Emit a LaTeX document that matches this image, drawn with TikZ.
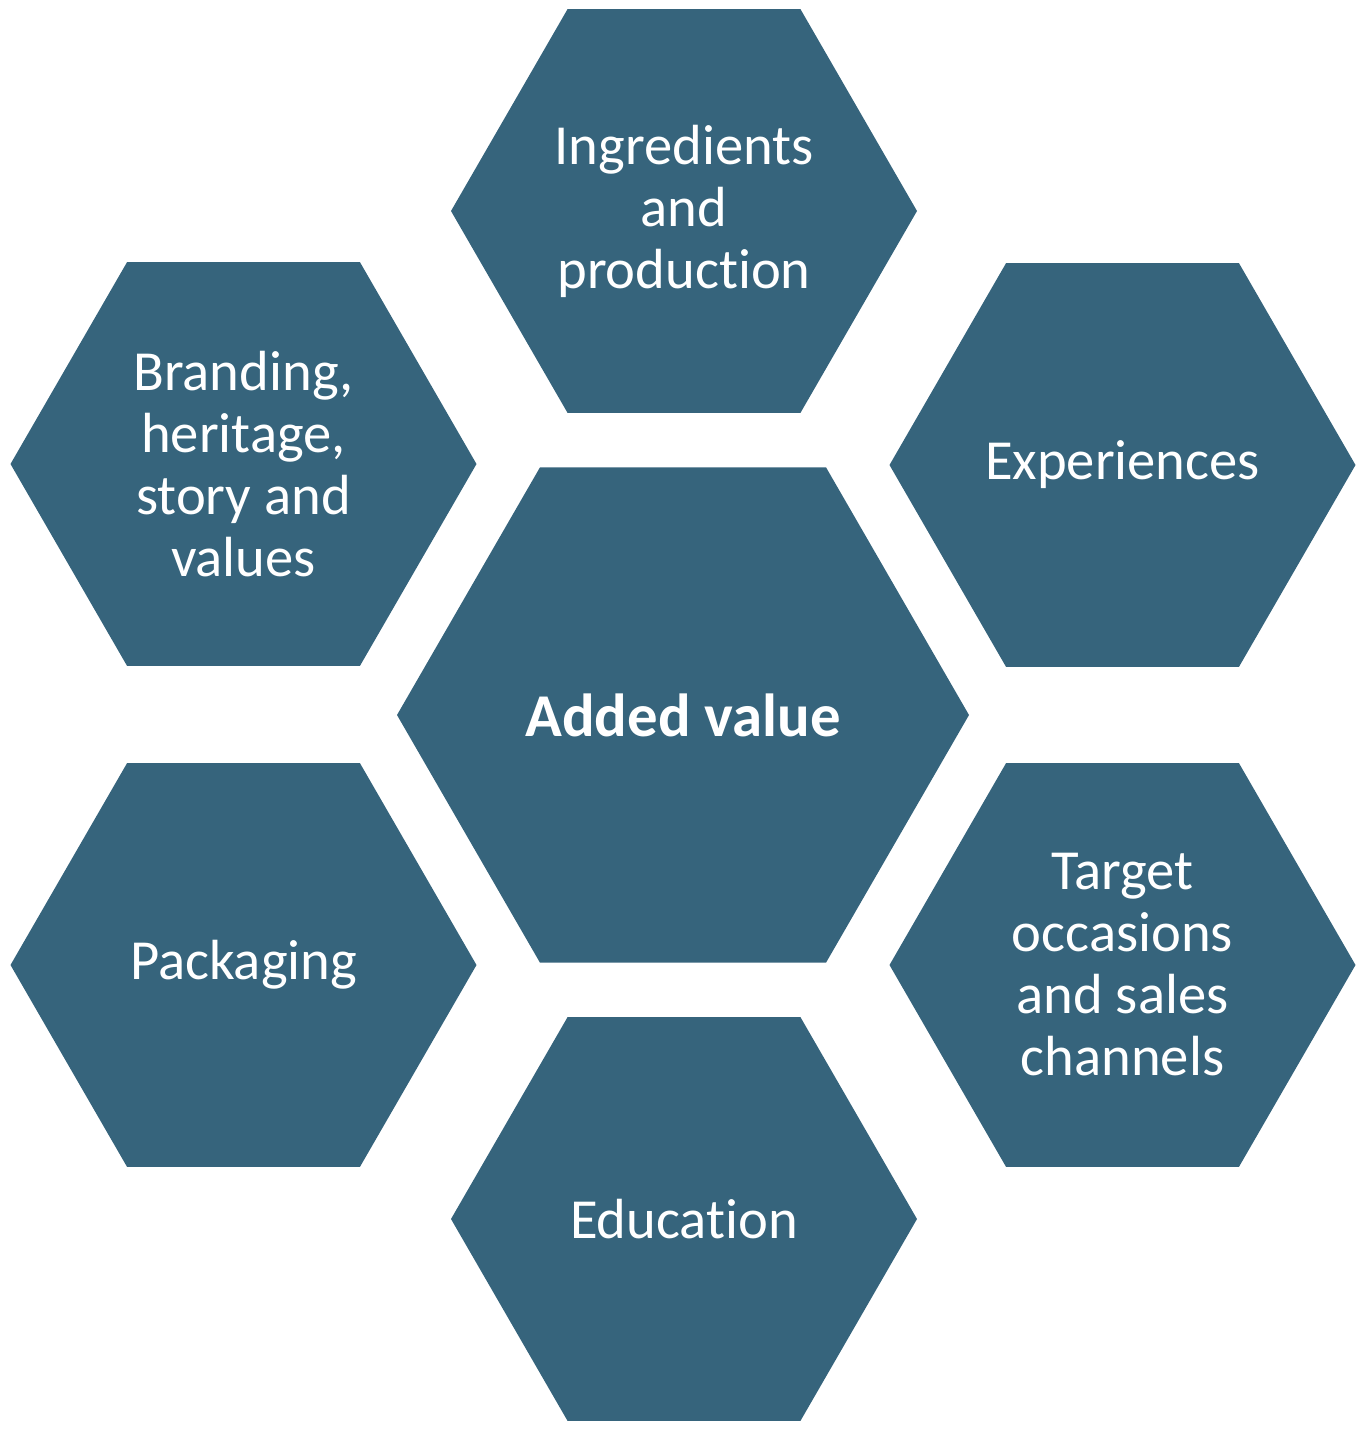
\documentclass[tikz,border=0pt]{standalone}
\usepackage{fontspec}
\setmainfont{Carlito}[Ligatures={NoCommon}]
\usetikzlibrary{
  shapes.geometric,
  positioning,
}
\definecolor{hexblue}{HTML}{36647C}
\tikzset{
  hexa/.style={regular polygon, regular polygon sides=6, fill=hexblue,
    inner sep=0pt, outer sep=0pt, text=white, align=center,
    font=\fontsize{28.3}{31}\selectfont},
}

\begin{document}
\begin{tikzpicture}[x=0.5pt, y=-0.5pt]
      \useasboundingbox (0,0) rectangle (1366,1431);
      \node[hexa, minimum size=286pt, font=\fontsize{30.4}{34}\selectfont\bfseries] (core) at (683,715) {Added value};
      \node[hexa, minimum size=233pt] (ingr) at (684,211) {
        Ingredients \\
        and \\
        production
      };
      \node[hexa, minimum size=233pt] (brand) at (243.5,464) {
        Branding, \\
        heritage, \\
        story and \\
        values
      };
      \node[hexa, minimum size=233pt] (exper) at (1122.5,465) {Experiences};
      \node[hexa, minimum size=233pt] (pack) at (243.5,965) {Packaging};
      \node[hexa, minimum size=233pt] (target) at (1122.5,965) {
        Target \\
        occasions \\
        and sales \\
        channels
      };
      \node[hexa, minimum size=233pt] (edu) at (684,1219) {Education};
    \end{tikzpicture}
\end{document}
